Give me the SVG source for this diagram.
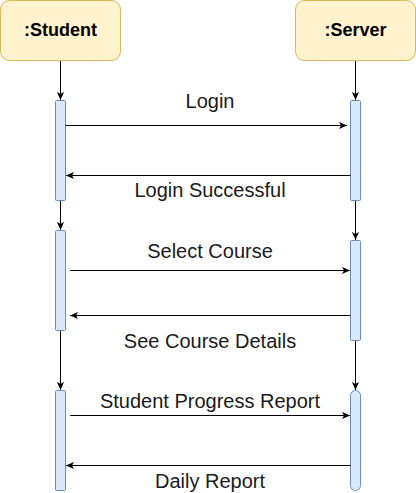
<svg xmlns="http://www.w3.org/2000/svg" width="416" height="493" viewBox="0 0 416 493">
<style>
.box{fill:#fff2cc;stroke:#d6b656;stroke-width:1}
.bar{fill:#dae8fc;stroke:#6c8ebf;stroke-width:1}
.t{font-family:"Liberation Sans",Arial,sans-serif;font-size:18px;font-weight:bold;fill:#000;text-anchor:middle}
.l{font-family:"Liberation Sans",Arial,sans-serif;font-size:20px;fill:#1a1a1a;text-anchor:middle}
.c{stroke:#000;stroke-width:1;fill:none;marker-end:url(#ah)}
</style>
<defs>
<marker id="ah" viewBox="0 0 10 10" refX="10" refY="5" markerWidth="8" markerHeight="8" markerUnits="userSpaceOnUse" orient="auto">
<path d="M10,5 L0,0.5 L2.5,5 L0,9.5 Z" fill="#000"/>
</marker>
</defs>
<rect width="416" height="493" fill="#fff"/>
<g id="student">
<rect class="box" x="0.5" y="0.5" width="120" height="60" rx="9"/>
<text class="t" x="60.5" y="36">:Student</text>
</g>
<g id="server">
<rect class="box" x="295.5" y="0.5" width="120" height="60" rx="9"/>
<text class="t" x="355.5" y="36">:Server</text>
</g>
<g id="student-act1"><rect class="bar" x="55.5" y="100.5" width="10" height="100" rx="1"/></g>
<g id="student-act2"><rect class="bar" x="55.5" y="230.5" width="10" height="100" rx="1"/></g>
<g id="student-act3"><rect class="bar" x="55.5" y="390.5" width="10" height="100" rx="1"/></g>
<g id="server-act1"><rect class="bar" x="350.5" y="100.5" width="10" height="100" rx="1"/></g>
<g id="server-act2"><rect class="bar" x="350.5" y="240.5" width="10" height="100" rx="1"/></g>
<g id="server-act3"><rect class="bar" x="350.5" y="390.5" width="10" height="100" rx="5"/></g>
<g id="connectors">
<path class="c" d="M60.5,61 V100"/>
<path class="c" d="M60.5,201 V230"/>
<path class="c" d="M60.5,331 V390"/>
<path class="c" d="M355.5,61 V100"/>
<path class="c" d="M355.5,201 V240"/>
<path class="c" d="M355.5,341 V390"/>
<path class="c" d="M65.5,125.5 H347"/>
<path class="c" d="M350.5,175.5 H66"/>
<path class="c" d="M70,270.5 H350"/>
<path class="c" d="M350.5,315.5 H70"/>
<path class="c" d="M70,415.5 H350"/>
<path class="c" d="M350.5,465.5 H66"/>
</g>
<g id="labels">
<text class="l" x="210" y="108">Login</text>
<text class="l" x="210" y="197">Login Successful</text>
<text class="l" x="210" y="258">Select Course</text>
<text class="l" x="210" y="348">See Course Details</text>
<text class="l" x="210" y="408">Student Progress Report</text>
<text class="l" x="210" y="488">Daily Report</text>
</g>
</svg>
